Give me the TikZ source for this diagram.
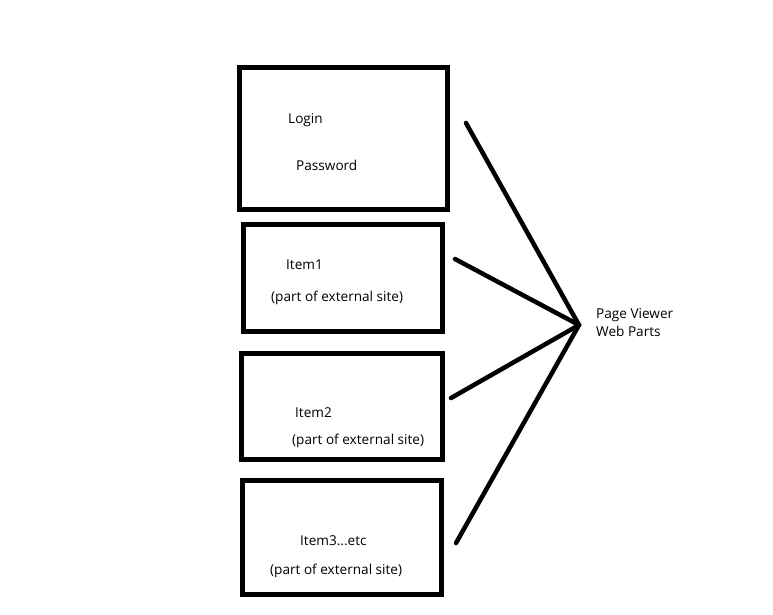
\documentclass[tikz,border=0pt]{standalone}
\usepackage{fontspec}
\setmainfont{Open Sans}
\begin{document}
\begin{tikzpicture}[x=1pt,y=-1pt,
  box/.style={draw=black, line width=5pt, inner sep=0pt},
  lbl/.style={anchor=west, inner sep=0pt, font=\fontsize{13.6}{18}\selectfont},
  spoke/.style={line width=4.5pt, line cap=round}]
  \useasboundingbox (0,0) rectangle (773,614);
  % boxes
  \node[box, minimum width=208pt, minimum height=142pt] (login) at (343.5,138.5) {};
  \node[box, minimum width=199pt, minimum height=107pt] (item1) at (343,278) {};
  \node[box, minimum width=201pt, minimum height=106pt] (item2) at (342,406.5) {};
  \node[box, minimum width=199pt, minimum height=114pt] (item3) at (342,537.5) {};
  % texts
  \node[lbl] (tlogin) at (288,120) {Login};
  \node[lbl] (tpass) at (296,165) {Password};
  \node[lbl] (titem1) at (286,265) {Item1};
  \node[lbl] (tpart1) at (271,298) {(part of external site)};
  \node[lbl] (titem2) at (295,413) {Item2};
  \node[lbl] (tpart2) at (292,441) {(part of external site)};
  \node[lbl] (titem3) at (300,541) {Item3...etc};
  \node[lbl] (tpart3) at (270,571) {(part of external site)};
  \node[lbl, align=left] (pv) at (596,323) {Page Viewer\\Web Parts};
  % spokes
  \coordinate (hub) at (579,325);
  \coordinate (s1) at (466,123);
  \coordinate (s2) at (455,259);
  \coordinate (s3) at (451,398);
  \coordinate (s4) at (456,543);
  \foreach \s in {s1,s2,s3,s4}
    \draw[spoke] (\s) -- (hub);
\end{tikzpicture}
\end{document}
